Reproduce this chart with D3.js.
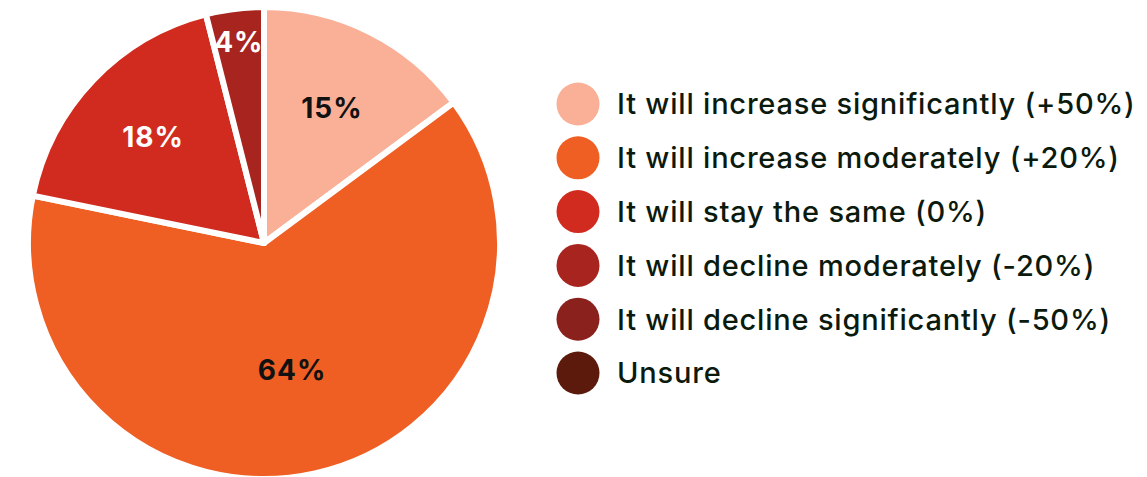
<!DOCTYPE html>
<html>
<head>
<meta charset="utf-8">
<script src="https://cdn.jsdelivr.net/npm/d3@7"></script>
<style>
  body { margin: 0; background: #fff; }
  text { font-family: Inter, "Noto Sans", sans-serif; }
</style>
</head>
<body>
<div id="chart"></div>
<script>
// chart data
const categories = [
  'It will increase significantly (+50%)',
  'It will increase moderately (+20%)',
  'It will stay the same (0%)',
  'It will decline moderately (-20%)',
  'It will decline significantly (-50%)',
  'Unsure'
]
const values = [15, 64, 18, 4, 0, 0]
const colors = ['#f9b097', '#ef5f23', '#d12b20', '#a8241f', '#8b211d', '#5c1a0c']
const labelColors = ['#111', '#111', '#fff', '#fff', '#fff', '#fff']

const W = 1147
const H = 477
const cx = 264
const cy = 243
const radius = 236
// how far out the % labels sit, as a share of the radius
const labelRadius = [0.64, 0.55, 0.65, 0.86, 0.7, 0.7]

const svg = d3.select('#chart')
  .append('svg')
  .attr('width', W)
  .attr('height', H)

const pie = d3.pie().sort(null).value(d => d)
const arcs = pie(values)

const arc = d3.arc().innerRadius(0).outerRadius(radius)

const g = svg.append('g').attr('transform', `translate(${cx},${cy})`)

g.selectAll('path')
  .data(arcs)
  .join('path')
  .attr('d', arc)
  .attr('fill', (d, i) => colors[i])
  .attr('stroke', '#fff')
  .attr('stroke-width', 6)
  .attr('stroke-linejoin', 'round')

g.selectAll('text.lbl')
  .data(arcs.filter(d => d.value > 0))
  .join('text')
  .attr('class', 'lbl')
  .attr('transform', d => {
    const r = radius * labelRadius[d.index]
    const a = (d.startAngle + d.endAngle) / 2
    return `translate(${Math.sin(a) * r},${-Math.cos(a) * r})`
  })
  .attr('text-anchor', 'middle')
  .attr('dy', '0.36em')
  .attr('font-size', 28)
  .attr('font-weight', 700)
  .attr('letter-spacing', 1)
  .attr('fill', d => labelColors[d.index])
  .text(d => d.value + '%')

// legend
const rowStep = 53.8
const legend = svg.append('g').attr('transform', 'translate(578,104)')

const item = legend.selectAll('g')
  .data(categories)
  .join('g')
  .attr('transform', (d, i) => `translate(0,${i * rowStep})`)

item.append('circle')
  .attr('r', 21.5)
  .attr('fill', (d, i) => colors[i])

item.append('text')
  .attr('x', 39)
  .attr('dy', '0.36em')
  .attr('font-size', 29)
  .attr('font-weight', 500)
  .attr('letter-spacing', 0.8)
  .attr('fill', '#0b1a0c')
  .text(d => d)
</script>
</body>
</html>
